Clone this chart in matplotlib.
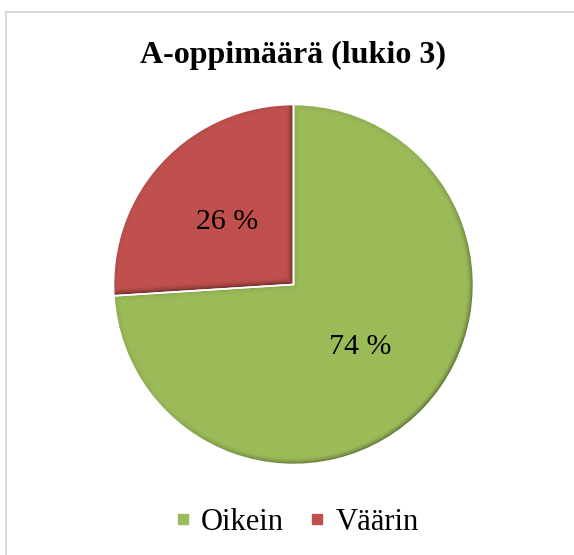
import numpy as np
import matplotlib
matplotlib.use("Agg")
import matplotlib.pyplot as plt
from matplotlib.lines import Line2D

# ---- data ----
title = "A-oppimäärä (lukio 3)"
categories = ["Oikein", "Väärin"]
values = [74, 26]
colors = ["#9BBB59", "#C0504D"]

W, H = 574, 555
fig = plt.figure(figsize=(W / 100, H / 100), dpi=100)
ax = fig.add_axes([0, 0, 1, 1])
ax.set_xlim(0, W)
ax.set_ylim(0, H)
ax.set_aspect("equal")
ax.axis("off")

serif = ["Liberation Serif", "DejaVu Serif"]

cx, cy, R = 293.5, H - 284.5, 180
wedges, texts, autotexts = ax.pie(
    values, colors=colors, startangle=90, counterclock=False,
    center=(cx, cy), radius=R, explode=[0.016, 0.016],
    autopct=lambda p: f"{p:.0f} %", pctdistance=0.51,
    wedgeprops=dict(linewidth=0), frame=True,
    textprops=dict(fontsize=21.5, family=serif, color="black"),
)
for t in autotexts:
    t.set_zorder(10)


# bevel shading at the wedge borders (light from the top-left)
def shade(w, width=8.0, amax=0.6):
    (x0, y0), r = w.center, w.r
    t1, t2 = np.radians(w.theta1), np.radians(w.theta2)
    xs = np.linspace(x0 - r, x0 + r, 600)
    ys = np.linspace(y0 - r, y0 + r, 600)
    X, Y = np.meshgrid(xs, ys)
    dx, dy = X - x0, Y - y0
    rho = np.hypot(dx, dy)
    phi = np.arctan2(dy, dx)
    rel = np.mod(phi - t1, 2 * np.pi)
    span = t2 - t1
    light = np.radians(-45)

    def dirf(n):
        return np.clip(np.cos(n - light), 0, 1) * 0.85 + 0.15

    a = np.zeros_like(rho)
    d = r - rho
    a = np.maximum(a, np.clip(1 - d / width, 0, 1) ** 2 * dirf(phi))
    d1 = rho * np.sin(np.clip(rel, 0, np.pi / 2))
    a = np.maximum(a, np.clip(1 - d1 / width, 0, 1) ** 2 * dirf(t1 - np.pi / 2))
    d2 = rho * np.sin(np.clip(span - rel, 0, np.pi / 2))
    a = np.maximum(a, np.clip(1 - d2 / width, 0, 1) ** 2 * dirf(t2 + np.pi / 2))
    img = np.zeros(X.shape + (4,))
    img[..., 3] = a * amax
    im = ax.imshow(img, extent=(xs[0], xs[-1], ys[0], ys[-1]), origin="lower",
                   interpolation="bilinear", zorder=3)
    im.set_clip_path(w)


for w in wedges:
    shade(w)
    # thin white outline so the small explode gap shows
    ax.add_patch(plt.matplotlib.patches.Wedge(w.center, w.r, w.theta1, w.theta2,
                                              facecolor="none", edgecolor="white",
                                              linewidth=1.2, zorder=4))

ax.set_xlim(0, W)
ax.set_ylim(0, H)

fig.text(292.9 / W, (H - 63) / H, title, ha="center", va="baseline",
         fontsize=23, fontweight="bold", family=serif)

handles = [Line2D([], [], linestyle="none", marker="s", markersize=7.5,
                  markerfacecolor=c, markeredgecolor=c) for c in colors]
fig.legend(handles, categories, loc="center", bbox_to_anchor=(297 / W, 33 / H),
           ncol=2, frameon=False, prop=dict(family=serif, size=22),
           handlelength=0.5, handletextpad=0.35, columnspacing=0.84,
           borderaxespad=0)

# chart-area border (cropped on the right and bottom)
bc = "#D9D9D9"
fig.add_artist(Line2D([6 / W, 6 / W], [0, (H - 12) / H], color=bc, lw=1.5,
                      transform=fig.transFigure))
fig.add_artist(Line2D([6 / W, 1], [(H - 12) / H, (H - 12) / H], color=bc, lw=1.5,
                      transform=fig.transFigure))

fig.savefig("out.png", dpi=100, facecolor="white")
